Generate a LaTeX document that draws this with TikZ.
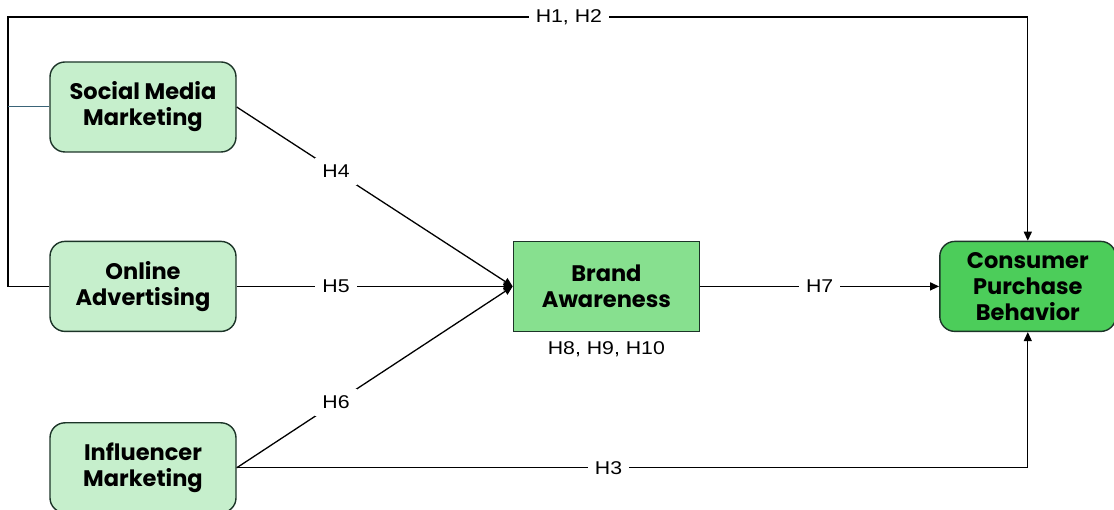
\documentclass[tikz,border=0pt]{standalone}
\usepackage{fontspec}
\setmainfont[FakeStretch=1.15]{Liberation Sans}
\newfontfamily\boxfont{Poppins}
\usetikzlibrary{arrows.meta,positioning}
\definecolor{lightgreen}{RGB}{198,239,204}
\definecolor{midgreen}{RGB}{135,224,143}
\definecolor{darkgreen}{RGB}{76,205,90}
\definecolor{boxline}{RGB}{28,52,40}
\definecolor{sideline}{RGB}{58,100,120}
\tikzset{>={Triangle[length=9pt,width=8pt]},x=1pt,y=-1pt}
\tikzset{varbox/.style={draw=boxline,line width=1.4pt,fill=lightgreen,rounded corners=15pt,
        minimum width=186pt,minimum height=90pt,align=center,inner sep=2pt,
        font=\boxfont\bfseries\fontsize{22.5}{26}\selectfont}}
\tikzset{hyp/.style={fill=white,font=\fontsize{18.5}{20}\selectfont,inner sep=7pt}}

\begin{document}
\begin{tikzpicture}[line width=1.3pt]
                \useasboundingbox (0,0) rectangle (1114,510);
                \node[varbox] (smm) at (143,107) {Social Media\\Marketing};
                \node[varbox] (oa)  [below=88pt of smm] {Online\\Advertising};
                \node[varbox] (im)  [below=90pt of oa] {Influencer\\Marketing};
                \node[varbox,fill=midgreen,rounded corners=0pt] (ba) [right=276pt of oa] {Brand\\Awareness};
                \node[varbox,fill=darkgreen,minimum width=176pt] (cpb) [right=239pt of ba] {Consumer\\Purchase\\Behavior};
                \node[hyp,fill=none] (med) [below=2pt of ba] {H8, H9, H10};
                \coordinate (tl) at (8,17);
                \draw[->] (oa.west) -| (tl) -| node[hyp,pos=0.275] {H1, H2} (cpb.north);
                \draw[sideline,line width=1pt] (smm.west) -- (smm.west -| tl);
                \path[->]
                    (smm.east) edge node[hyp,pos=0.36] {H4} (ba.west)
                    (oa.east)  edge node[hyp,pos=0.36] {H5} (ba.west)
                    (im.east)  edge node[hyp,pos=0.36] {H6} (ba.west)
                    (ba.east)  edge node[hyp] {H7} (cpb.west)
                    ;
                \draw[->] (im.east) -| node[hyp,pos=0.235] {H3} (cpb.south);
            \end{tikzpicture}
\end{document}
